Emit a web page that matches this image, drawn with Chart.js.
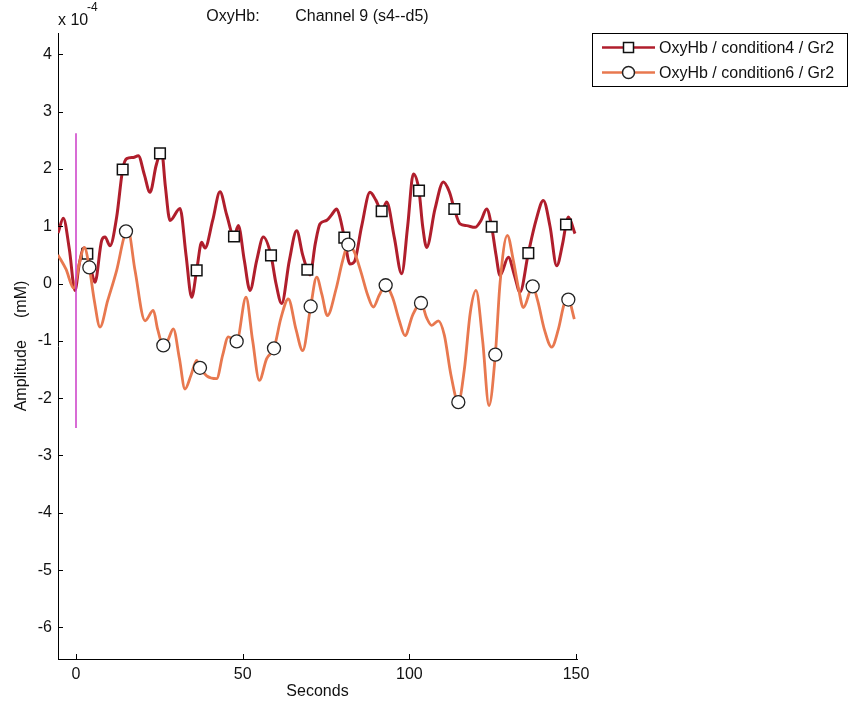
<!DOCTYPE html>
<html>
<head>
<meta charset="utf-8">
<script src="https://cdn.jsdelivr.net/npm/chart.js@4.4.1/dist/chart.umd.min.js"></script>
<style>
  html, body { margin: 0; padding: 0; background: #fff; overflow: hidden; }
  canvas { display: block; }
</style>
</head>
<body>
<canvas id="c" width="852" height="709"></canvas>
<script>
// Block-averaged OxyHb response, channel 9 (s4--d5). Amplitudes are in units of 1e-4 mM.
const cond4Time = [-5.4, -3.8, -2.0, -0.3, 1.0, 2.4, 3.4, 4.5, 5.7, 7.7, 8.7, 10.2, 12.2, 14, 15.2, 17.2, 18.7, 20.5, 22.2, 24, 25.2, 25.7, 26.8, 28.2, 31.2, 33, 34.7, 36.2, 37.7, 38.7, 41, 43.2, 45.2, 47.4, 48.7, 50.5, 52.2, 54.2, 56.2, 58.5, 60, 61.7, 64, 66.2, 68, 69.4, 70.2, 71.8, 73.2, 75.2, 76.7, 78.2, 79.2, 80.5, 82.2, 83.5, 85.7, 88.2, 90, 91.7, 93.2, 95.5, 97.7, 99.5, 101.2, 102.9, 104, 105.2, 107.7, 110.2, 112, 113.5, 115.2, 117.2, 119.7, 121.5, 123.2, 124.7, 126, 127.2, 129.7, 131.5, 133.2, 135.7, 138, 140.2, 142.2, 144.2, 146, 147, 147.7, 149.7];
const cond4Amp = [0.88, 1.14, 0.6, -0.12, 0.35, 0.62, 0.52, 0.25, 0.02, 0.75, 0.81, 0.66, 1.16, 1.99, 2.18, 2.2, 2.23, 1.9, 1.59, 2.05, 2.27, 2.3, 1.7, 1.1, 1.31, 0.5, -0.24, 0.23, 0.72, 0.62, 1.1, 1.6, 1.2, 0.82, 1.01, 0.4, -0.12, 0.4, 0.81, 0.49, 0.0, -0.35, 0.4, 0.92, 0.5, 0.24, 0.15, 0.7, 1.04, 1.1, 1.2, 1.3, 1.15, 0.8, 0.34, 0.38, 1.0, 1.59, 1.45, 1.26, 1.42, 0.8, 0.17, 1.0, 1.91, 1.62, 1.0, 0.63, 1.3, 1.77, 1.6, 1.3, 1.04, 1.01, 0.98, 1.1, 1.3, 0.99, 0.5, 0.14, 0.46, 0.15, -0.15, 0.53, 1.1, 1.45, 1.0, 0.31, 0.7, 1.03, 1.16, 0.87];
const cond4MarkerTimes = [3.4, 14, 25.2, 36.2, 47.4, 58.5, 69.4, 80.5, 91.7, 102.9, 113.5, 124.7, 135.7, 147];

const cond6Time = [-5.4, -3, -0.7, 1, 2.5, 4, 5.5, 7.2, 9.5, 12.2, 15, 15.6, 17.7, 20.7, 23.2, 24.5, 26.2, 27.5, 29.2, 31, 32.7, 34.5, 36.2, 37.2, 39.2, 42.2, 44, 45.7, 48.2, 51, 53, 55, 57.2, 59.4, 61.5, 63.7, 66, 68, 70.4, 72.2, 73.8, 75.4, 78, 80, 81.7, 83.5, 85.5, 87.5, 89.2, 91, 92.9, 95, 97, 98.7, 101, 103.5, 105.2, 106.7, 108.7, 110.5, 112.5, 114.7, 116.5, 118.3, 120, 122, 123.9, 125.8, 127.2, 129.4, 131.2, 132.8, 134.2, 137, 138.5, 140.5, 142.7, 144.7, 146.5, 147.7, 149.5];
const cond6Amp = [0.5, 0.25, -0.08, 0.35, 0.63, 0.28, -0.3, -0.76, -0.3, 0.23, 0.91, 0.93, 0.23, -0.65, -0.47, -0.8, -1.08, -1.0, -0.79, -1.3, -1.84, -1.6, -1.34, -1.47, -1.61, -1.66, -1.25, -0.93, -1.01, -0.24, -1.0, -1.69, -1.31, -1.13, -0.6, -0.27, -0.8, -1.17, -0.40, 0.11, -0.2, -0.56, -0.1, 0.4, 0.68, 0.55, 0.2, -0.2, -0.41, -0.2, -0.03, -0.25, -0.65, -0.91, -0.55, -0.34, -0.6, -0.73, -0.65, -0.9, -1.6, -2.07, -1.5, -0.5, -0.12, -1.0, -2.13, -1.24, 0.0, 0.84, 0.4, -0.1, -0.42, -0.05, -0.3, -0.8, -1.11, -0.8, -0.35, -0.28, -0.62];
const cond6MarkerTimes = [4, 15, 26.2, 37.2, 48.2, 59.4, 70.4, 81.7, 92.9, 103.5, 114.7, 125.8, 137, 147.7];

// Stimulus onset marker
const onsetTime = [0, 0];
const onsetAmp = [2.62, -2.52];

const xTicks = [0, 50, 100, 150];
const yTicks = [-6, -5, -4, -3, -2, -1, 0, 1, 2, 3, 4];
const seriesLabels = ['OxyHb / condition4 / Gr2', 'OxyHb / condition6 / Gr2'];

const FONT = '"Liberation Sans", Arial, Helvetica, sans-serif';
const RED = '#B01E2C';
const ORANGE = '#E8784F';
const ONSET = '#CC3DC8';

const toPoints = (ts, vs) => ts.map((t, i) => ({ x: t, y: vs[i] }));
const markerRadii = (ts, marks, r) => ts.map(t => (marks.includes(t) ? r : 0));

function drawMarker(ctx, style, cx, cy) {
  ctx.save();
  ctx.fillStyle = '#fff';
  if (style === 'rect') {
    ctx.strokeStyle = '#111';
    ctx.lineWidth = 1.5;
    ctx.fillRect(cx - 5, cy - 5, 10, 10);
    ctx.strokeRect(cx - 5, cy - 5, 10, 10);
  } else {
    ctx.strokeStyle = '#222';
    ctx.lineWidth = 1.5;
    ctx.beginPath();
    ctx.arc(cx, cy, 6, 0, Math.PI * 2);
    ctx.fill();
    ctx.stroke();
  }
  ctx.restore();
}

const decor = {
  id: 'decor',
  afterDraw(chart) {
    const { ctx, chartArea: a, scales: { x, y } } = chart;
    ctx.save();

    // inward tick marks
    ctx.strokeStyle = '#000';
    ctx.lineWidth = 1;
    ctx.beginPath();
    yTicks.forEach(v => {
      const py = Math.round(y.getPixelForValue(v)) + 0.5;
      ctx.moveTo(a.left, py);
      ctx.lineTo(a.left + 5, py);
    });
    xTicks.forEach(v => {
      const px = Math.round(x.getPixelForValue(v)) + 0.5;
      ctx.moveTo(px, a.bottom);
      ctx.lineTo(px, a.bottom - 5);
    });
    ctx.stroke();

    ctx.fillStyle = '#111';
    // plot title
    ctx.font = '16px ' + FONT;
    ctx.textAlign = 'center';
    ctx.textBaseline = 'alphabetic';
    ctx.fillText('OxyHb:        Channel 9 (s4--d5)', (a.left + a.right) / 2, 21);

    // exponent label
    ctx.textAlign = 'left';
    ctx.fillText('x 10', a.left, 25);
    ctx.font = '12px ' + FONT;
    ctx.fillText('-4', a.left + 29, 11);

    // axis titles
    ctx.font = '16px ' + FONT;
    ctx.textAlign = 'center';
    ctx.textBaseline = 'middle';
    ctx.fillText('Seconds', (a.left + a.right) / 2, 692);
    ctx.save();
    ctx.translate(22, (a.top + a.bottom) / 2);
    ctx.rotate(-Math.PI / 2);
    ctx.fillText('Amplitude     (mM)', 0, 0);
    ctx.restore();

    // legend
    const lx = 592, ly = 33, lw = 255, lh = 53;
    ctx.fillStyle = '#fff';
    ctx.fillRect(lx, ly, lw, lh);
    ctx.strokeStyle = '#000';
    ctx.lineWidth = 1;
    ctx.strokeRect(lx + 0.5, ly + 0.5, lw, lh);
    const entries = [
      { ds: chart.data.datasets[0], style: 'rect', yy: 47.5 },
      { ds: chart.data.datasets[1], style: 'circle', yy: 72.5 }
    ];
    entries.forEach(e => {
      ctx.strokeStyle = e.ds.borderColor;
      ctx.lineWidth = 2.5;
      ctx.beginPath();
      ctx.moveTo(602, e.yy);
      ctx.lineTo(655, e.yy);
      ctx.stroke();
      drawMarker(ctx, e.style, 628.5, e.yy);
      ctx.fillStyle = '#111';
      ctx.font = '16px ' + FONT;
      ctx.textAlign = 'left';
      ctx.textBaseline = 'middle';
      ctx.fillText(e.ds.label, 659, e.yy + 1);
    });

    ctx.restore();
  }
};

new Chart(document.getElementById('c'), {
  type: 'line',
  data: {
    datasets: [
      {
        label: seriesLabels[0],
        data: toPoints(cond4Time, cond4Amp),
        borderColor: RED,
        borderWidth: 3,
        cubicInterpolationMode: 'monotone',
        pointStyle: 'rect',
        pointRadius: markerRadii(cond4Time, cond4MarkerTimes, 7.5),
        pointBackgroundColor: '#fff',
        pointBorderColor: '#111',
        pointBorderWidth: 1.5,
        order: 2
      },
      {
        label: seriesLabels[1],
        data: toPoints(cond6Time, cond6Amp),
        borderColor: ORANGE,
        borderWidth: 2.8,
        cubicInterpolationMode: 'monotone',
        pointStyle: 'circle',
        pointRadius: markerRadii(cond6Time, cond6MarkerTimes, 6.5),
        pointBackgroundColor: '#fff',
        pointBorderColor: '#222',
        pointBorderWidth: 1.3,
        order: 1
      },
      {
        label: 'onset',
        data: toPoints(onsetTime, onsetAmp),
        borderColor: ONSET,
        borderWidth: 1.5,
        pointRadius: 0,
        order: 0
      }
    ]
  },
  options: {
    responsive: false,
    animation: false,
    events: [],
    layout: { padding: { left: 0, top: 33, right: 275, bottom: 0 } },
    plugins: { legend: { display: false }, title: { display: false }, tooltip: { enabled: false } },
    scales: {
      x: {
        type: 'linear',
        min: -5.4,
        max: 150.3,
        afterFit: s => { s.height = 50; },
        afterBuildTicks: s => { s.ticks = xTicks.map(v => ({ value: v })); },
        grid: { display: false, drawTicks: false },
        border: { display: true, color: '#000', width: 1 },
        ticks: { color: '#111', font: { family: FONT, size: 16 }, padding: 6, maxRotation: 0 }
      },
      y: {
        type: 'linear',
        min: -6.55,
        max: 4.37,
        afterFit: s => { s.width = 58; },
        afterBuildTicks: s => { s.ticks = yTicks.map(v => ({ value: v })); },
        grid: { display: false, drawTicks: false },
        border: { display: true, color: '#000', width: 1 },
        ticks: { color: '#111', font: { family: FONT, size: 16 }, padding: 6 }
      }
    }
  },
  plugins: [decor]
});
</script>
</body>
</html>
